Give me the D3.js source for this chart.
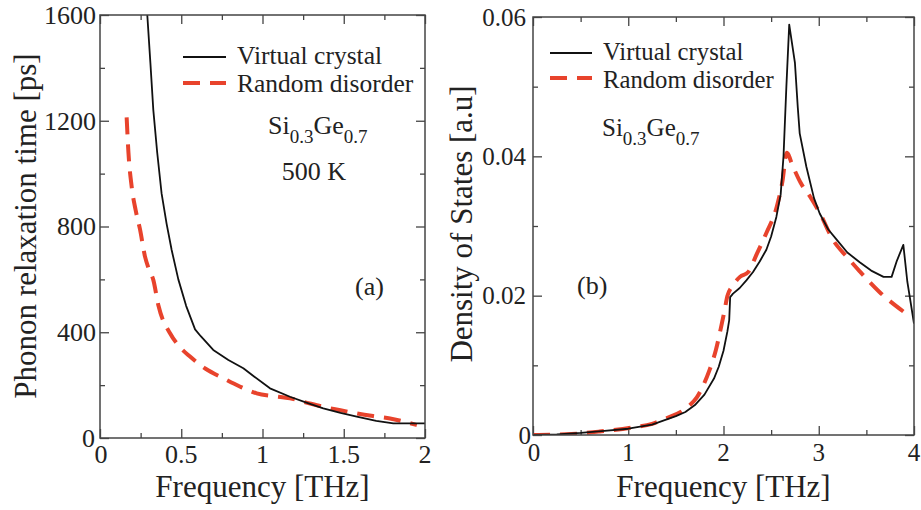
<!DOCTYPE html>
<html>
<head>
<meta charset="utf-8">
<script src="https://cdn.jsdelivr.net/npm/d3@7"></script>
<style>
  html, body { margin: 0; padding: 0; background: #fff; }
  svg { display: block; font-family: "Liberation Serif", "Times New Roman", serif; }
</style>
</head>
<body>
<svg id="chart" width="921" height="510"></svg>
<script>
// ---------- Data ----------
// Panel (a): phonon relaxation time vs frequency
const vcFreqA = [0.291,0.31,0.328,0.352,0.379,0.41,0.441,0.482,0.53,0.585,0.62,0.697,0.79,0.882,0.95,1.046,1.169,1.27,1.374,1.48,1.58,1.7,1.805,1.9,2.0];
const vcTauA  = [1600,1420,1241,1080,925,810,711,600,500,411,385,333,295,264,232,188,156,134,112,95,81,65,55,55,55];
const rdFreqA = [0.164,0.175,0.195,0.22,0.246,0.277,0.30,0.328,0.36,0.431,0.49,0.554,0.65,0.759,0.86,0.964,1.07,1.169,1.27,1.374,1.48,1.58,1.68,1.785,1.87,1.95];
const rdTauA  = [1213,1080,950,860,790,686,640,598,500,396,345,308,262,226,195,169,158,150,134,118,105,93,83,74,62,49];

// Panel (b): density of states vs frequency
const vcFreqB = [0,0.25,0.5,0.75,1.0,1.25,1.5,1.6,1.7,1.8,1.9,1.95,2.0,2.04,2.06,2.07,2.1,2.17,2.24,2.31,2.38,2.45,2.5,2.555,2.6,2.63,2.66,2.69,2.75,2.78,2.80,2.87,2.95,3.01,3.1,3.19,3.3,3.43,3.55,3.68,3.765,3.82,3.888,3.93,4.0];
const vcDosB  = [0,0.0001,0.0003,0.0006,0.0009,0.0015,0.0027,0.0033,0.0043,0.0058,0.0081,0.0098,0.0121,0.0148,0.0165,0.0198,0.0203,0.0211,0.0222,0.0234,0.0249,0.0266,0.0285,0.0313,0.0345,0.040,0.050,0.0589,0.0534,0.047,0.0433,0.0385,0.034,0.0318,0.0295,0.028,0.0262,0.0248,0.0236,0.0227,0.0227,0.025,0.0273,0.022,0.016];
const rdFreqB = [0,0.35,0.7,1.053,1.25,1.40,1.55,1.64,1.72,1.79,1.85,1.92,1.97,2.01,2.04,2.1,2.173,2.26,2.35,2.45,2.56,2.62,2.663,2.73,2.81,2.91,3.013,3.15,3.3,3.43,3.64,3.91];
const rdDosB  = [0,0.0001,0.0005,0.0011,0.0016,0.0024,0.0033,0.0042,0.0054,0.0072,0.0092,0.0122,0.0152,0.0178,0.0199,0.0215,0.0227,0.0234,0.026,0.029,0.0328,0.0365,0.0405,0.0385,0.0362,0.0342,0.0318,0.028,0.0255,0.0235,0.0205,0.0175];

// Ticks
const xTicksA = [0,0.5,1,1.5,2];
const xTickLabelsA = ["0","0.5","1","1.5","2"];
const yTicksA = [0,400,800,1200,1600];
const yTickLabelsA = ["0","400","800","1200","1600"];
const xTicksB = [0,1,2,3,4];
const xTickLabelsB = ["0","1","2","3","4"];
const yTicksB = [0,0.02,0.04,0.06];
const yTickLabelsB = ["0","0.02","0.04","0.06"];

const seriesNames = ["Virtual crystal","Random disorder"];

// ---------- Drawing ----------
const svg = d3.select("#chart");
const RED = "#e8432c";
const BLACK = "#111";
const FRAME = "#444";

function panel(cfg) {
  const g = svg.append("g");
  const x = d3.scaleLinear().domain(cfg.xDomain).range([cfg.left, cfg.right]);
  const y = d3.scaleLinear().domain(cfg.yDomain).range([cfg.bottom, cfg.top]);
  const id = "clip" + cfg.name;
  svg.append("defs").append("clipPath").attr("id", id)
    .append("rect").attr("x", cfg.left).attr("y", cfg.top)
    .attr("width", cfg.right - cfg.left).attr("height", cfg.bottom - cfg.top);

  // inward ticks on all four sides using d3 axes
  const major = 9, minor = 5;
  const mkAxis = (axisFn, scale, vals, size) => axisFn(scale).tickValues(vals).tickSize(size).tickFormat("");
  const styleAxis = sel => { sel.select(".domain").remove(); sel.selectAll("line").attr("stroke", FRAME).attr("stroke-width", 1.3); };

  g.append("g").attr("transform", `translate(0,${cfg.bottom})`).call(mkAxis(d3.axisTop, x, cfg.xTicks, major)).call(styleAxis);
  g.append("g").attr("transform", `translate(0,${cfg.bottom})`).call(mkAxis(d3.axisTop, x, cfg.xMinor, minor)).call(styleAxis);
  g.append("g").attr("transform", `translate(0,${cfg.top})`).call(mkAxis(d3.axisBottom, x, cfg.xTicks, major)).call(styleAxis);
  g.append("g").attr("transform", `translate(0,${cfg.top})`).call(mkAxis(d3.axisBottom, x, cfg.xMinor, minor)).call(styleAxis);
  g.append("g").attr("transform", `translate(${cfg.left},0)`).call(mkAxis(d3.axisRight, y, cfg.yTicks, major)).call(styleAxis);
  g.append("g").attr("transform", `translate(${cfg.left},0)`).call(mkAxis(d3.axisRight, y, cfg.yMinor, minor)).call(styleAxis);
  g.append("g").attr("transform", `translate(${cfg.right},0)`).call(mkAxis(d3.axisLeft, y, cfg.yTicks, major)).call(styleAxis);
  g.append("g").attr("transform", `translate(${cfg.right},0)`).call(mkAxis(d3.axisLeft, y, cfg.yMinor, minor)).call(styleAxis);

  // curves
  const vc = cfg.vcX.map((d, i) => [d, cfg.vcY[i]]);
  const rd = cfg.rdX.map((d, i) => [d, cfg.rdY[i]]);
  const lineLin = d3.line().x(d => x(d[0])).y(d => y(d[1]));
  const lineSm = d3.line().curve(d3.curveMonotoneX).x(d => x(d[0])).y(d => y(d[1]));
  const cg = g.append("g").attr("clip-path", `url(#${id})`);
  cg.append("path").datum(rd).attr("d", lineSm).attr("fill", "none")
    .attr("stroke", RED).attr("stroke-width", 4).attr("stroke-dasharray", "17,10");
  cg.append("path").datum(vc).attr("d", lineLin).attr("fill", "none")
    .attr("stroke", BLACK).attr("stroke-width", 1.8).attr("stroke-linejoin", "round");

  // frame
  g.append("rect").attr("x", cfg.left).attr("y", cfg.top)
    .attr("width", cfg.right - cfg.left).attr("height", cfg.bottom - cfg.top)
    .attr("fill", "none").attr("stroke", FRAME).attr("stroke-width", 1.5);

  // tick labels
  g.selectAll(".xl").data(cfg.xTicks).enter().append("text")
    .attr("x", d => x(d) + (d === cfg.xDomain[0] ? 1 : 0)).attr("y", cfg.xLabelY)
    .attr("text-anchor", "middle").attr("font-size", cfg.tickFont).attr("fill", "#222")
    .text((d, i) => cfg.xLabels[i]);
  g.selectAll(".yl").data(cfg.yTicks).enter().append("text")
    .attr("x", d => (d === 0 ? cfg.yZeroRight : cfg.yLabelRight))
    .attr("y", d => y(d) + cfg.tickFont * 0.34)
    .attr("text-anchor", "end").attr("font-size", cfg.tickFont).attr("fill", "#222")
    .text((d, i) => cfg.yLabels[i]);

  // axis titles
  g.append("text").attr("x", (cfg.left + cfg.right) / 2).attr("y", 497)
    .attr("text-anchor", "middle").attr("font-size", 31).attr("fill", "#222").text("Frequency [THz]");
  g.append("text").attr("transform", `translate(${cfg.yTitleX},${cfg.yTitleY}) rotate(-90)`)
    .attr("text-anchor", "middle").attr("font-size", 31).attr("fill", "#222").text(cfg.yTitle);

  // legend
  const L = cfg.legend;
  g.append("line").attr("x1", L.x1).attr("x2", L.x2).attr("y1", L.y1).attr("y2", L.y1)
    .attr("stroke", BLACK).attr("stroke-width", 1.8);
  g.append("line").attr("x1", L.x1).attr("x2", L.x2).attr("y1", L.y2).attr("y2", L.y2)
    .attr("stroke", RED).attr("stroke-width", 4).attr("stroke-dasharray", "17,10");
  g.append("text").attr("x", L.tx).attr("y", L.b1).attr("font-size", L.font).attr("fill", "#222").text(seriesNames[0]);
  g.append("text").attr("x", L.tx).attr("y", L.b2).attr("font-size", L.font).attr("fill", "#222").text(seriesNames[1]);

  // composition
  const comp = g.append("text").attr("x", cfg.comp.x).attr("y", cfg.comp.y)
    .attr("font-size", cfg.comp.font).attr("fill", "#222");
  comp.append("tspan").text("Si");
  comp.append("tspan").attr("dy", 9).attr("font-size", 19).text("0.3");
  comp.append("tspan").attr("dy", -9).text("Ge");
  comp.append("tspan").attr("dy", 9).attr("font-size", 19).text("0.7");

  if (cfg.temp) {
    g.append("text").attr("x", cfg.temp.x).attr("y", cfg.temp.y).attr("text-anchor", "middle")
      .attr("font-size", 26).attr("fill", "#222").text(cfg.temp.t);
  }
  g.append("text").attr("x", cfg.tag.x).attr("y", cfg.tag.y)
    .attr("font-size", 26).attr("fill", "#222").text(cfg.tag.t);
}

panel({
  name: "a", left: 100, right: 425, top: 15, bottom: 438,
  xDomain: [0, 2], yDomain: [0, 1600],
  xTicks: xTicksA, xLabels: xTickLabelsA, xMinor: [0.25,0.75,1.25,1.75],
  yTicks: yTicksA, yLabels: yTickLabelsA, yMinor: [200,600,1000,1400],
  vcX: vcFreqA, vcY: vcTauA, rdX: rdFreqA, rdY: rdTauA,
  tickFont: 26, xLabelY: 463, yLabelRight: 96, yZeroRight: 95,
  yTitle: "Phonon relaxation time [ps]", yTitleX: 36, yTitleY: 226,
  legend: { x1: 183, x2: 226, y1: 57, y2: 83, tx: 237, b1: 64, b2: 92, font: 25.5 },
  comp: { x: 268, y: 134, font: 26 },
  temp: { x: 314, y: 180, t: "500 K" },
  tag: { x: 355, y: 295, t: "(a)" }
});

panel({
  name: "b", left: 533, right: 914, top: 17, bottom: 435,
  xDomain: [0, 4], yDomain: [0, 0.06],
  xTicks: xTicksB, xLabels: xTickLabelsB, xMinor: [0.5,1.5,2.5,3.5],
  yTicks: yTicksB, yLabels: yTickLabelsB, yMinor: [0.01,0.03,0.05],
  vcX: vcFreqB, vcY: vcDosB, rdX: rdFreqB, rdY: rdDosB,
  tickFont: 25, xLabelY: 461, yLabelRight: 526, yZeroRight: 531,
  yTitle: "Density of States [a.u]", yTitleX: 472, yTitleY: 224,
  legend: { x1: 550, x2: 592, y1: 53, y2: 78, tx: 603, b1: 60, b2: 88, font: 24.7 },
  comp: { x: 602, y: 136, font: 25 },
  temp: null,
  tag: { x: 577, y: 294, t: "(b)" }
});
</script>
</body>
</html>
